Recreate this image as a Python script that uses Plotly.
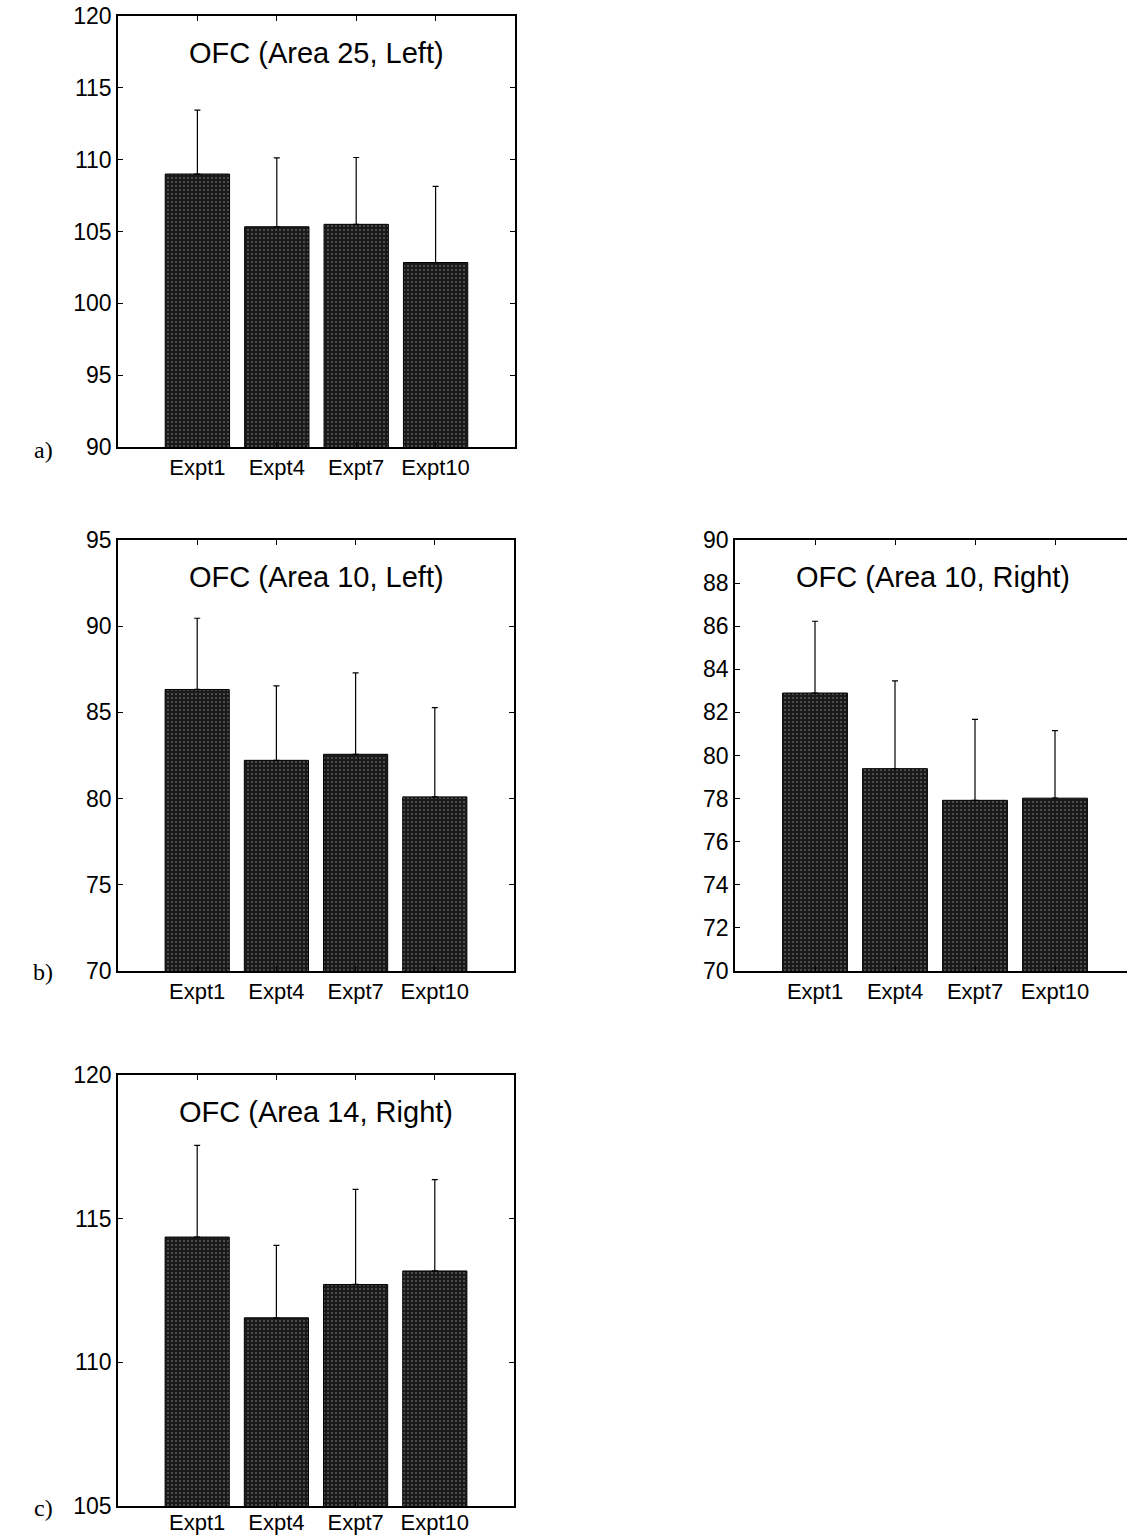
import plotly.graph_objects as go

categories = ["Expt1", "Expt4", "Expt7", "Expt10"]

titles = ["OFC (Area 25, Left)", "OFC (Area 10, Left)", "OFC (Area 10, Right)", "OFC (Area 14, Right)"]

means_a = [109.0, 105.33, 105.5, 102.84]
err_a = [4.45, 4.8, 4.65, 5.3]

means_b_left = [86.33, 82.22, 82.57, 80.1]
err_b_left = [4.13, 4.32, 4.72, 5.18]

means_b_right = [82.9, 79.39, 77.92, 78.02]
err_b_right = [3.33, 4.07, 3.76, 3.13]

means_c = [114.36, 111.55, 112.71, 113.18]
err_c = [3.19, 2.52, 3.31, 3.18]

yticks_a = [90, 95, 100, 105, 110, 115, 120]
yticks_b_left = [70, 75, 80, 85, 90, 95]
yticks_b_right = [70, 72, 74, 76, 78, 80, 82, 84, 86, 88, 90]
yticks_c = [105, 110, 115, 120]

panel_labels = ["a)", "b)", "c)"]

W, H = 1127, 1539

def px_x(p):
    return p / W

def px_y(p):
    return 1 - p / H

panels = [
    dict(means=means_a, err=err_a, yticks=yticks_a, title=titles[0],
         xdom=[px_x(118), px_x(515)], ydom=[px_y(447), px_y(16)], xr=[-1, 4], so=0),
    dict(means=means_b_left, err=err_b_left, yticks=yticks_b_left, title=titles[1],
         xdom=[px_x(118), px_x(514)], ydom=[px_y(971), px_y(540)], xr=[-1, 4], so=0),
    dict(means=means_b_right, err=err_b_right, yticks=yticks_b_right, title=titles[2],
         xdom=[px_x(735), 1.0], ydom=[px_y(971), px_y(540)], xr=[-1, 3.9], so=0),
    dict(means=means_c, err=err_c, yticks=yticks_c, title=titles[3],
         xdom=[px_x(118), px_x(514)], ydom=[px_y(1506), px_y(1075)], xr=[-1, 4], so=-4),
]

fig = go.Figure()
FONT = "Liberation Sans, Arial, sans-serif"
annotations = []
for i, p in enumerate(panels):
    n = "" if i == 0 else str(i + 1)
    fig.add_trace(go.Bar(
        x=categories, y=p["means"],
        xaxis="x" + n, yaxis="y" + n,
        width=0.81,
        marker=dict(color="#1a1a1a",
                    line=dict(color="#000000", width=1),
                    pattern=dict(shape=".", fgcolor="#a0a0a0", bgcolor="#1a1a1a",
                                 size=4, solidity=0.2, fillmode="overlay")),
        error_y=dict(type="data", symmetric=False, array=p["err"],
                     arrayminus=[0] * len(p["err"]),
                     color="#000000", thickness=1.2, width=3),
        showlegend=False,
    ))
    yt = p["yticks"]
    fig.layout["xaxis" + n] = dict(
        domain=p["xdom"], anchor="y" + n, range=p["xr"], type="category",
        showline=True, linecolor="black", linewidth=1.5, mirror="ticks",
        ticks="inside", ticklen=5, tickcolor="black",
        tickfont=dict(family=FONT, size=22, color="black"),
        showgrid=False, zeroline=False, ticklabelstandoff=p["so"], automargin=False,
    )
    fig.layout["yaxis" + n] = dict(
        domain=p["ydom"], anchor="x" + n, range=[yt[0], yt[-1]],
        tickvals=yt, showline=True, linecolor="black", linewidth=1.5,
        mirror=("ticks" if i != 2 else False), ticks="inside", ticklen=5, tickcolor="black",
        tickfont=dict(family=FONT, size=23, color="black"),
        showgrid=False, zeroline=False, automargin=False,
    )
    annotations.append(dict(
        text=p["title"], xref="x" + n + " domain", yref="y" + n + " domain",
        x=0.5 if i != 2 else 0.505, y=0.914, showarrow=False,
        font=dict(family=FONT, size=29, color="black"),
        xanchor="center", yanchor="middle",
    ))

label_y = [px_y(450), px_y(972), px_y(1508)]
for lab, yy in zip(panel_labels, label_y):
    annotations.append(dict(
        text=lab, xref="paper", yref="paper", x=px_x(43), y=yy,
        showarrow=False, xanchor="center", yanchor="middle",
        font=dict(family="Liberation Serif, Times New Roman, serif", size=24, color="black"),
    ))

fig.update_layout(
    width=W, height=H, margin=dict(l=0, r=0, t=0, b=0, autoexpand=False),
    paper_bgcolor="white", plot_bgcolor="white",
    annotations=annotations, bargap=0.2,
)

fig.write_html("out.html")
